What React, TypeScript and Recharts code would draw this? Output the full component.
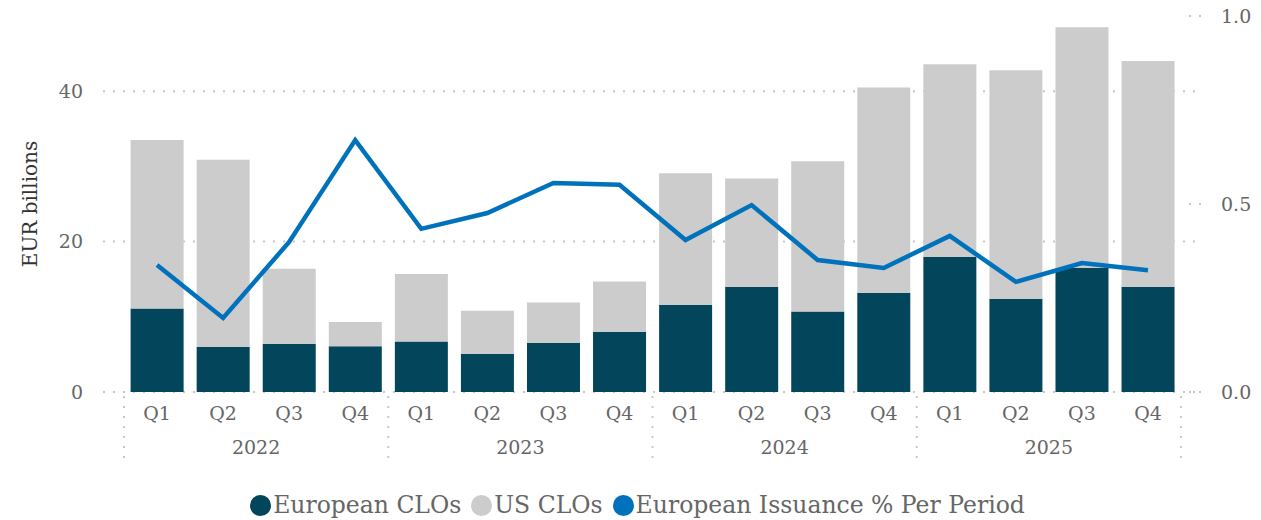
import React from 'react';
import { ComposedChart, Bar, Line, XAxis, YAxis, CartesianGrid } from 'recharts';

const quarters = ['Q1', 'Q2', 'Q3', 'Q4', 'Q1', 'Q2', 'Q3', 'Q4', 'Q1', 'Q2', 'Q3', 'Q4', 'Q1', 'Q2', 'Q3', 'Q4'];
const years = ['2022', '2023', '2024', '2025'];
const europeanCLOs = [11.1, 6.0, 6.4, 6.1, 6.7, 5.1, 6.5, 8.0, 11.6, 14.0, 10.7, 13.2, 18.0, 12.4, 16.5, 14.0];
const usCLOs = [22.4, 24.9, 10.0, 3.2, 9.0, 5.7, 5.4, 6.7, 17.5, 14.4, 20.0, 27.3, 25.6, 30.4, 32.0, 30.0];
const europeanShare = [0.338, 0.197, 0.399, 0.670, 0.434, 0.476, 0.556, 0.551, 0.404, 0.497, 0.351, 0.330, 0.415, 0.293, 0.343, 0.324];
const leftTicks = [0, 20, 40];
const rightTicks = [0, 0.5, 1];

const COLORS = { eu: '#03455b', us: '#cccccc', line: '#0072bb' };
const FONT = 'DejaVu Serif';
const TICK_COLOR = '#666666';

const data = quarters.map((q, i) => ({
  key: years[Math.floor(i / 4)] + ' ' + q,
  quarter: q,
  year: years[Math.floor(i / 4)],
  european: europeanCLOs[i],
  us: usCLOs[i],
  share: europeanShare[i],
}));

const XTick = (props: any) => {
  const { x, y, index, payload } = props;
  const off = payload && payload.offset ? payload.offset : 33;
  const d = data[index];
  const sep = (sx: number) => (
    <line x1={sx} x2={sx} y1={y + 4} y2={y + 72} stroke="#c8c8c8" strokeWidth={2} strokeDasharray="2 8" />
  );
  return (
    <g>
      <text x={x} y={y + 28} textAnchor="middle" fontFamily={FONT} fontSize={19} fill={TICK_COLOR}>
        {d ? d.quarter : ''}
      </text>
      {index % 4 === 1 && (
        <text x={x + off} y={y + 62} textAnchor="middle" fontFamily={FONT} fontSize={19} fill={TICK_COLOR}>
          {d ? d.year : ''}
        </text>
      )}
      {index % 4 === 0 && sep(x - off)}
      {index === data.length - 1 && sep(x + off)}
    </g>
  );
};

const RightTick = (props: any) => {
  const { x, y, payload } = props;
  return (
    <g>
      <line x1={x - 6} x2={x + 7} y1={y} y2={y} stroke="#c8c8c8" strokeWidth={2} strokeDasharray="2 8" />
      <text x={x + 26} y={y} dy={7} textAnchor="start" fontFamily={FONT} fontSize={19} fill={TICK_COLOR}>
        {Number(payload.value).toFixed(1)}
      </text>
    </g>
  );
};

const LeftLabel = (props: any) => {
  const vb = props.viewBox || { x: 0, y: 16, width: 103, height: 376 };
  const cx = vb.x + 30;
  const cy = vb.y + vb.height / 2;
  return (
    <text x={cx} y={cy} transform={`rotate(-90 ${cx} ${cy})`} textAnchor="middle" dominantBaseline="central"
      fontFamily={FONT} fontSize={20} fill="#333333">
      EUR billions
    </text>
  );
};

const legendItems = [
  { name: 'European CLOs', color: COLORS.eu },
  { name: 'US CLOs', color: COLORS.us },
  { name: 'European Issuance % Per Period', color: COLORS.line },
];

export default function App() {
  return (
    <div style={{ position: 'absolute', left: 0, top: 0, width: 1261, height: 520, background: '#fff' }}>
      <ComposedChart width={1261} height={520} data={data} margin={{ top: 16, right: 0, bottom: 0, left: 0 }}
        barCategoryGap="10%">
        <CartesianGrid yAxisId="left" vertical={false} stroke="#c8c8c8" strokeWidth={2} strokeDasharray="2 8"
          syncWithTicks={true} />
        <XAxis dataKey="key" type="category" axisLine={false} tickLine={false} tickSize={0} tickMargin={0}
          padding={{ left: 21, right: 14 }} height={128} interval={0} tick={<XTick />} />
        <YAxis yAxisId="left" orientation="left" domain={[0, 50]} ticks={leftTicks} width={103}
          axisLine={false} tickLine={false} tickSize={0} tickMargin={20}
          tick={{ fontFamily: FONT, fontSize: 19, fill: TICK_COLOR }} label={<LeftLabel />} />
        <YAxis yAxisId="right" orientation="right" domain={[0, 1]} ticks={rightTicks} width={66}
          axisLine={false} tickLine={false} tickSize={0} tickMargin={0} tick={<RightTick />} />
        <Bar yAxisId="left" dataKey="european" stackId="a" fill={COLORS.eu} isAnimationActive={false} />
        <Bar yAxisId="left" dataKey="us" stackId="a" fill={COLORS.us} isAnimationActive={false} />
        <Line yAxisId="right" dataKey="share" type="linear" stroke={COLORS.line} strokeWidth={4.5} dot={false}
          activeDot={false} isAnimationActive={false} />
      </ComposedChart>
      <div style={{ position: 'absolute', left: 7, top: 490, width: 1261, display: 'flex', justifyContent: 'center',
        fontFamily: FONT, fontSize: 23.5, color: TICK_COLOR, lineHeight: '30px' }}>
        {legendItems.map((it, i) => (
          <div key={it.name} style={{ display: 'flex', alignItems: 'center', marginRight: i < legendItems.length - 1 ? 10 : 0 }}>
            <span style={{ display: 'inline-block', width: 21, height: 21, borderRadius: 11, background: it.color, marginRight: 2 }} />
            <span>{it.name}</span>
          </div>
        ))}
      </div>
    </div>
  );
}
